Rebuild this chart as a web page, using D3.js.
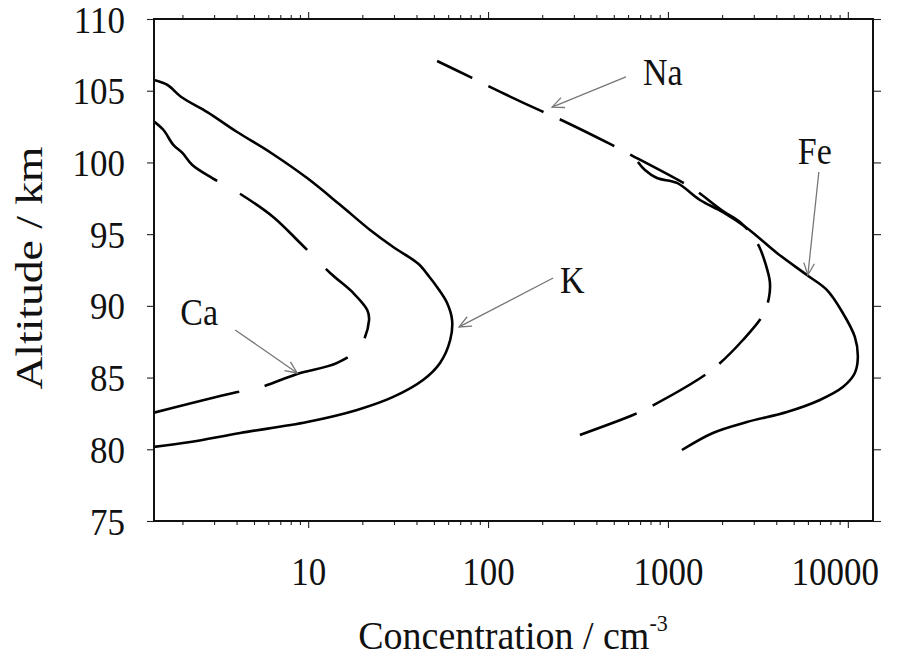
<!DOCTYPE html>
<html>
<head>
<meta charset="utf-8">
<script src="https://cdn.jsdelivr.net/npm/d3@7"></script>
<style>
  body { margin: 0; background: #fff; }
  text { font-family: "Liberation Serif", "Times New Roman", serif; fill: #111; }
</style>
</head>
<body>
<svg id="chart" width="901" height="659"></svg>
<script>
const xMajor = [10, 100, 1000, 10000];
const yMajor = [75, 80, 85, 90, 95, 100, 105, 110];

// K, solid
const kConc = [1.39, 1.65, 1.97, 2.75, 4.03, 6.23, 9.87, 15.1, 22.1, 29.7, 40.8, 47.0, 52.5, 59.2, 63.1, 61.6, 54.1, 43.5, 29.7, 18.7, 9.87, 4.19, 2.21, 1.38];
const kAlt  = [105.75, 105.4, 104.56, 103.51, 102.12, 100.66, 98.91, 97.03, 95.29, 94.1, 92.95, 92.05, 91.25, 90.2, 89.01, 87.62, 86.02, 84.83, 83.65, 82.74, 81.9, 81.14, 80.51, 80.16];

// Ca, dashed
const caConc = [1.39, 1.57, 1.78, 2.0, 2.27, 2.93, 4.03, 6.39, 9.03, 13.25, 17.8, 21.3, 21.8, 19.4, 14.5, 8.69, 5.27, 3.83, 1.39];
const caAlt  = [102.85, 102.26, 101.22, 100.66, 99.82, 98.91, 97.94, 96.2, 94.38, 92.29, 90.9, 89.71, 89.01, 87.13, 86.02, 85.25, 84.27, 83.92, 82.55];

// Na, dashed
const naConc = [52.1, 81.5, 100, 197, 242, 476, 592, 1137, 1413, 2021, 2512, 2929, 3203, 3503, 3687, 3640, 3372, 2610, 1896, 1545, 794, 639, 324];
const naAlt  = [107.07, 105.89, 105.33, 103.59, 103.1, 101.29, 100.66, 98.78, 98.08, 96.61, 95.85, 94.94, 94.17, 92.85, 91.66, 90.55, 89.36, 87.62, 85.88, 85.04, 82.95, 82.39, 81.0];

// Fe, solid
const feConc = [681, 745, 869, 1122, 1506, 2021, 2747, 4033, 5918, 7641, 9380, 10938, 11366, 10938, 9380, 6989, 4583, 2747, 1778, 1196];
const feAlt  = [100.03, 99.47, 98.91, 98.57, 97.38, 96.54, 95.43, 93.69, 92.15, 91.11, 89.5, 87.83, 86.43, 85.32, 84.34, 83.44, 82.6, 81.9, 81.14, 79.95];

// labels: [name, text conc, text alt, arrow-from conc, alt, arrow-tip conc, alt]
const notes = [
  ["Na", 726, 105.4, 584, 105.96, 227, 103.86],
  ["Fe", 5275, 99.89, 6900, 99.33, 5995, 92.15],
  ["K", 251, 90.9, 230, 91.94, 69.0, 88.53],
  ["Ca", 1.945, 88.67, 3.93, 88.32, 8.69, 85.32]
];

const svg = d3.select("#chart");
const x = d3.scaleLog().domain([1.39, 13800]).range([154, 873]);
const y = d3.scaleLinear().domain([75, 110]).range([521, 19]);
const xMinor = x.ticks().filter(v => !xMajor.includes(v));

svg.append("defs").append("clipPath").attr("id", "plot")
  .append("rect").attr("x", 154).attr("y", 19).attr("width", 719).attr("height", 502);

function styleAxis(g) {
  g.select(".domain").remove();
  g.selectAll(".tick line").attr("stroke", "#222").attr("stroke-width", 1.1);
  g.attr("font-family", null).attr("font-size", null);
}

// minor + major ticks, bottom and top
[["bottom", 521, d3.axisBottom], ["top", 19, d3.axisTop]].forEach(([side, py, ax]) => {
  svg.append("g").attr("transform", `translate(0,${py})`)
    .call(ax(x).tickValues(xMinor).tickSize(4).tickSizeOuter(0).tickFormat(""))
    .call(styleAxis);
  const g = svg.append("g").attr("transform", `translate(0,${py})`)
    .call(ax(x).tickValues(xMajor).tickSize(7).tickSizeOuter(0).tickFormat(d3.format("d")))
    .call(styleAxis);
  if (side === "top") g.selectAll("text").remove();
  else g.selectAll("text")
    .attr("y", 0).attr("dy", null)
    .style("font-size", "35px")
    .attr("transform", d => `translate(${d === 10000 ? -13 : 0},64) scale(1,1.15)`);
});

const left = svg.append("g").attr("transform", "translate(154,0)")
  .call(d3.axisLeft(y).tickValues(yMajor).tickSize(7).tickSizeOuter(0))
  .call(styleAxis);
left.selectAll("text")
  .attr("x", 0).attr("dy", null)
  .style("font-size", "35px")
  .attr("transform", "translate(-29,13) scale(1,1.08)");

svg.append("g").attr("transform", "translate(873,0)")
  .call(d3.axisRight(y).tickValues(yMajor).tickSize(8).tickSizeOuter(0).tickFormat(""))
  .call(styleAxis);

// profiles
const line = d3.line()
  .x(d => x(d[0])).y(d => y(d[1]))
  .curve(d3.curveCatmullRom.alpha(0.5));

// dash: number of full dashes, dash/gap ratio, length of the first partial dash
const series = [
  { conc: kConc, alt: kAlt },
  { conc: caConc, alt: caAlt, n: 5, ratio: 0.77, lead: 0 },
  { conc: naConc, alt: naAlt, n: 8, ratio: 0.77, lead: 39 },
  { conc: feConc, alt: feAlt }
];

const paths = svg.append("g").attr("clip-path", "url(#plot)")
  .selectAll("path")
  .data(series)
  .join("path")
  .attr("d", s => line(s.conc.map((c, i) => [c, s.alt[i]])))
  .attr("fill", "none")
  .attr("stroke", "#000")
  .attr("stroke-width", 2.6)
  .attr("stroke-linecap", "butt")
  .attr("stroke-linejoin", "round");

paths.filter(s => s.n).each(function (s) {
  const total = this.getTotalLength();
  let d, g;
  if (s.lead) {
    // lead, gap, (dash, gap) x (n-1), dash
    const p = (total - s.lead) / s.n;
    d = p * s.ratio; g = p - d;
  } else {
    // (dash, gap) x (n-1), dash
    const p = total / (s.n - 1 + s.ratio);
    d = p * s.ratio; g = p - d;
  }
  d3.select(this)
    .attr("stroke-dasharray", `${d},${g}`)
    .attr("stroke-dashoffset", s.lead ? d - s.lead : 0);
});

// frame
svg.append("rect")
  .attr("x", 154).attr("y", 19).attr("width", 719).attr("height", 502)
  .attr("fill", "none").attr("stroke", "#111").attr("stroke-width", 2);

// arrows and labels
const ann = svg.append("g");
notes.forEach(([name, tc, ta, fc, fa, hc, ha]) => {
  const x0 = x(fc), y0 = y(fa), x1 = x(hc), y1 = y(ha);
  const ang = Math.atan2(y1 - y0, x1 - x0);
  const hl = 13, hw = 0.42;
  ann.append("line")
    .attr("x1", x0).attr("y1", y0).attr("x2", x1).attr("y2", y1)
    .attr("stroke", "#777").attr("stroke-width", 1.3);
  ann.append("path")
    .attr("d", `M${x1 - hl * Math.cos(ang - hw)},${y1 - hl * Math.sin(ang - hw)}L${x1},${y1}L${x1 - hl * Math.cos(ang + hw)},${y1 - hl * Math.sin(ang + hw)}`)
    .attr("fill", "none").attr("stroke", "#777").attr("stroke-width", 1.3);
  ann.append("text")
    .attr("transform", `translate(${x(tc)},${y(ta)}) scale(1,1.1)`)
    .style("font-size", "34px")
    .text(name);
});

// axis titles
const xt = svg.append("text")
  .attr("transform", "translate(513,649) scale(1,1.06)")
  .attr("text-anchor", "middle")
  .style("font-size", "38px");
xt.append("tspan").text("Concentration / cm");
xt.append("tspan").attr("dy", -17).style("font-size", "22px").text("-3");

svg.append("text")
  .attr("transform", "translate(42,268) rotate(-90) scale(1.2,1)")
  .attr("text-anchor", "middle")
  .style("font-size", "38px")
  .text("Altitude / km");
</script>
</body>
</html>
